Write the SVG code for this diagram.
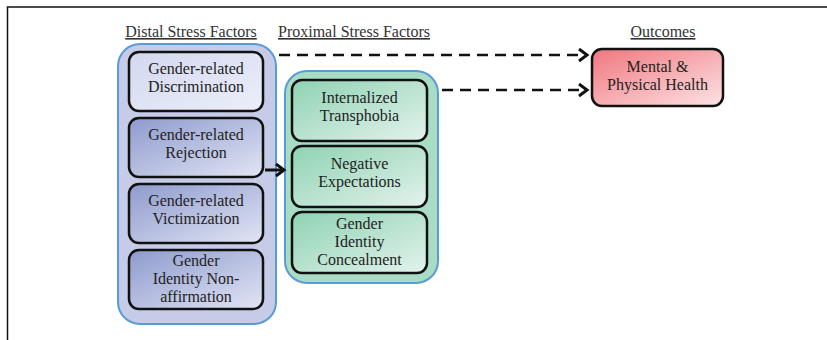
<svg xmlns="http://www.w3.org/2000/svg" width="827" height="340" viewBox="0 0 827 340">
  <style>
    .hdr { font-family: "Liberation Serif", "Times New Roman", serif; font-size: 16px; fill: #333; text-anchor: middle; text-decoration: underline; }
    .lbl { font-family: "Liberation Serif", "Times New Roman", serif; font-size: 16px; fill: #222; text-anchor: middle; }
    .box { stroke: #111; stroke-width: 2.5; }
    .group { stroke: #5b9bd5; stroke-width: 2; }
    .dash { fill: none; stroke: #111; stroke-width: 2.5; stroke-dasharray: 11 7; }
    .solid { fill: none; stroke: #111; stroke-width: 3; }
  </style>
  <defs>
    <linearGradient id="blueLight" x1="0" y1="0" x2="1" y2="1">
      <stop offset="0" stop-color="#d3d8ef"/>
      <stop offset="1" stop-color="#eceef9"/>
    </linearGradient>
    <linearGradient id="blueDark" x1="0" y1="0" x2="1" y2="1">
      <stop offset="0" stop-color="#8d9acd"/>
      <stop offset="1" stop-color="#e2e5f4"/>
    </linearGradient>
    <linearGradient id="green" x1="0" y1="0" x2="1" y2="1">
      <stop offset="0" stop-color="#8fd2b3"/>
      <stop offset="1" stop-color="#e3f3ec"/>
    </linearGradient>
    <linearGradient id="red" x1="0" y1="0" x2="1" y2="1">
      <stop offset="0" stop-color="#ef777e"/>
      <stop offset="1" stop-color="#fde3e5"/>
    </linearGradient>
    <marker id="chev" markerUnits="userSpaceOnUse" markerWidth="16" markerHeight="16" refX="10" refY="7" orient="auto">
      <path d="M2,1 L10,7 L2,13" fill="none" stroke="#111" stroke-width="3"/>
    </marker>
  </defs>

  <!-- frame -->
  <path d="M7.5,340 L7.5,7 L827,7" fill="none" stroke="#111" stroke-width="1.5"/>

  <!-- column headings -->
  <text class="hdr" x="191" y="37">Distal Stress Factors</text>
  <text class="hdr" x="354" y="37">Proximal Stress Factors</text>
  <text class="hdr" x="663" y="37">Outcomes</text>

  <!-- distal group -->
  <g id="distal">
    <rect class="group" x="118" y="44" width="158" height="280" rx="22" fill="#c6cbe8"/>
    <g id="discrimination">
      <rect class="box" x="129" y="52" width="134" height="59" rx="10" fill="url(#blueLight)"/>
      <text class="lbl" x="196" y="74">Gender-related</text>
      <text class="lbl" x="196" y="92">Discrimination</text>
    </g>
    <g id="rejection">
      <rect class="box" x="129" y="118" width="134" height="59" rx="10" fill="url(#blueDark)"/>
      <text class="lbl" x="196" y="140">Gender-related</text>
      <text class="lbl" x="196" y="158">Rejection</text>
    </g>
    <g id="victimization">
      <rect class="box" x="129" y="184" width="134" height="59" rx="10" fill="url(#blueDark)"/>
      <text class="lbl" x="196" y="206">Gender-related</text>
      <text class="lbl" x="196" y="224">Victimization</text>
    </g>
    <g id="nonaffirmation">
      <rect class="box" x="129" y="250" width="134" height="59" rx="10" fill="url(#blueDark)"/>
      <text class="lbl" x="196" y="266">Gender</text>
      <text class="lbl" x="196" y="284">Identity Non-</text>
      <text class="lbl" x="196" y="302">affirmation</text>
    </g>
  </g>

  <!-- proximal group -->
  <g id="proximal">
    <rect class="group" x="285" y="71" width="153" height="212" rx="22" fill="#a9dcc5"/>
    <g id="transphobia">
      <rect class="box" x="292" y="80" width="135" height="61" rx="10" fill="url(#green)"/>
      <text class="lbl" x="359.5" y="103">Internalized</text>
      <text class="lbl" x="359.5" y="121">Transphobia</text>
    </g>
    <g id="expectations">
      <rect class="box" x="292" y="146" width="135" height="61" rx="10" fill="url(#green)"/>
      <text class="lbl" x="359.5" y="169">Negative</text>
      <text class="lbl" x="359.5" y="187">Expectations</text>
    </g>
    <g id="concealment">
      <rect class="box" x="292" y="212" width="135" height="61" rx="10" fill="url(#green)"/>
      <text class="lbl" x="359.5" y="229">Gender</text>
      <text class="lbl" x="359.5" y="247">Identity</text>
      <text class="lbl" x="359.5" y="265">Concealment</text>
    </g>
  </g>

  <!-- outcome -->
  <g id="health">
    <rect class="box" x="592" y="49" width="131" height="57" rx="10" fill="url(#red)"/>
    <text class="lbl" x="657.5" y="72">Mental &amp;</text>
    <text class="lbl" x="657.5" y="90">Physical Health</text>
  </g>

  <!-- connectors -->
  <g id="connectors">
    <path class="dash" d="M279,55 L587,55" marker-end="url(#chev)"/>
    <path class="dash" d="M442,90 L587,90" marker-end="url(#chev)"/>
    <path class="solid" d="M265,170 L284,170" marker-end="url(#chev)"/>
  </g>
</svg>
